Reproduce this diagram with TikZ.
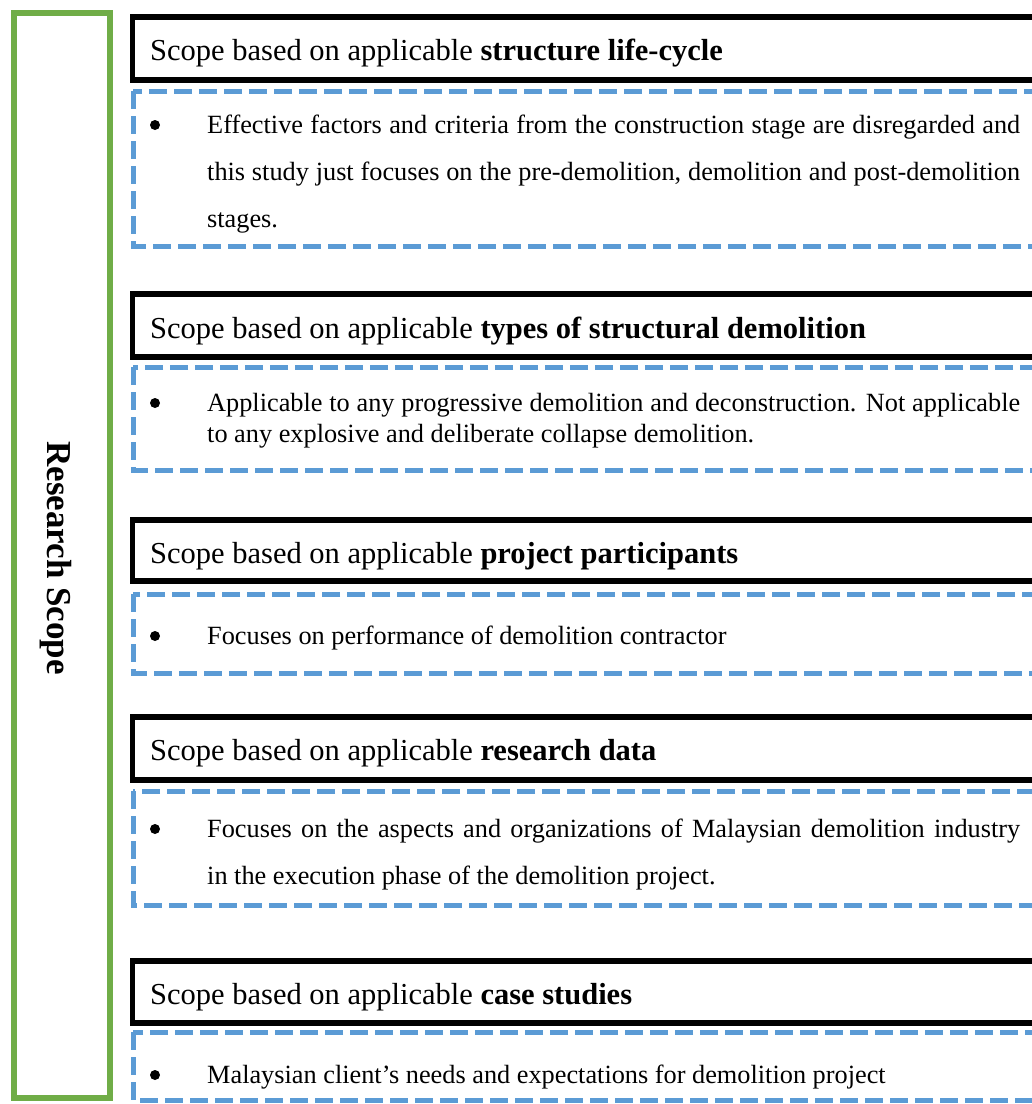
\documentclass[tikz,border=0pt]{standalone}
\usepackage{fontspec}
\setmainfont{Liberation Serif}
\definecolor{scopegreen}{HTML}{70AD47}
\definecolor{scopeblue}{HTML}{5B9BD5}
\tikzset{
  headbox/.style={draw=black, line width=5.5pt},
  notebox/.style={draw=scopeblue, line width=5pt, dash pattern=on 18pt off 7pt},
  framebox/.style={draw=scopegreen, line width=6pt},
  headtext/.style={anchor=base west, inner sep=0pt, font=\fontsize{30.5}{36}\selectfont},
  bodytext/.style={anchor=base west, inner sep=0pt, font=\fontsize{26.3}{31}\selectfont},
  bulletmark/.style={circle, fill=black, inner sep=0pt, minimum size=10pt},
}
\newcommand{\fullline}[1]{\makebox[813pt][s]{#1}}
\begin{document}
\begin{tikzpicture}[x=1pt, y=-1pt]
  \clip (0,0) rectangle (1032,1104);
  \fill[white] (0,0) rectangle (1032,1104);

  % outer frame with the vertical caption
  \draw[framebox] (14,13) rectangle (110,1098);
  \node[anchor=base, rotate=-90, inner sep=0pt, font=\fontsize{35}{40}\selectfont\bfseries] (cap) at (47,558) {Research Scope};

  % 1: structure life-cycle
  \draw[headbox] (132.5,17) rectangle (1045,80);
  \node[headtext] (h1) at (150,60) {Scope based on applicable \textbf{structure life-cycle}};
  \draw[notebox] (133,91) rectangle (1045,246);
  \node[bulletmark] (d1) at (155,125) {};
  \node[bodytext] (l1a) at (207,133) {\fullline{Effective factors and criteria from the construction stage are disregarded and}};
  \node[bodytext] (l1b) at (207,180) {\fullline{this study just focuses on the pre-demolition, demolition and post-demolition}};
  \node[bodytext] (l1c) at (207,227) {stages.};

  % 2: types of structural demolition
  \draw[headbox] (132.5,294) rectangle (1045,357);
  \node[headtext] (h2) at (150,338) {Scope based on applicable \textbf{types of structural demolition}};
  \draw[notebox] (133,367) rectangle (1045,470);
  \node[bulletmark] (d2) at (155,403) {};
  \node[bodytext] (l2a) at (207,411) {\fullline{Applicable to any progressive demolition and deconstruction. Not applicable}};
  \node[bodytext] (l2b) at (207,442) {to any explosive and deliberate collapse demolition.};

  % 3: project participants
  \draw[headbox] (132.5,520) rectangle (1045,581);
  \node[headtext] (h3) at (150,563) {Scope based on applicable \textbf{project participants}};
  \draw[notebox] (133,594) rectangle (1045,673);
  \node[bulletmark] (d3) at (155,636) {};
  \node[bodytext] (l3a) at (207,644) {Focuses on performance of demolition contractor};

  % 4: research data
  \draw[headbox] (132.5,717) rectangle (1045,780);
  \node[headtext] (h4) at (150,760) {Scope based on applicable \textbf{research data}};
  \draw[notebox] (133,791) rectangle (1045,905);
  \node[bulletmark] (d4) at (155,829) {};
  \node[bodytext] (l4a) at (207,837) {\fullline{Focuses on the aspects and organizations of Malaysian demolition industry}};
  \node[bodytext] (l4b) at (207,884) {in the execution phase of the demolition project.};

  % 5: case studies
  \draw[headbox] (132.5,961) rectangle (1045,1023);
  \node[headtext] (h5) at (150,1004) {Scope based on applicable \textbf{case studies}};
  \draw[notebox] (133,1032) rectangle (1045,1100);
  \node[bulletmark] (d5) at (155,1075) {};
  \node[bodytext] (l5a) at (207,1083) {Malaysian client’s needs and expectations for demolition project};
\end{tikzpicture}
\end{document}
